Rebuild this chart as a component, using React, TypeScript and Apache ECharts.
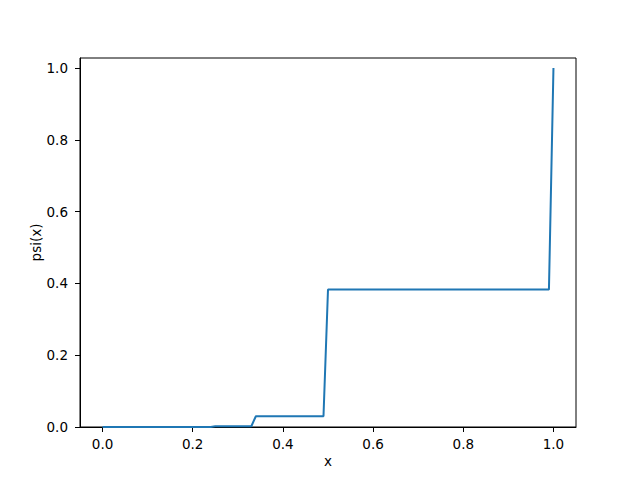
import React, { useEffect, useRef } from "react";
import * as echarts from "echarts";

const xPoints = [0, 0.24, 0.25, 0.33, 0.34, 0.49, 0.5, 0.99, 1.0];
const psiValues = [0, 0, 0.002, 0.002, 0.03, 0.03, 0.383, 0.383, 1.0];
const xTicks = [0, 0.2, 0.4, 0.6, 0.8, 1.0];
const yTicks = [0, 0.2, 0.4, 0.6, 0.8, 1.0];

export default function App() {
  const ref = useRef<HTMLDivElement>(null);
  useEffect(() => {
    if (!ref.current) return;
    const chart = echarts.init(ref.current, null, { renderer: "svg" });
    const font = "DejaVu Sans";
    const labelStyle = { color: "#000", fontFamily: font, fontSize: 13.5 };
    chart.setOption({
      animation: false,
      backgroundColor: "#fff",
      grid: {
        left: 80,
        right: 64,
        top: 58,
        bottom: 53,
        show: true,
        borderColor: "#000",
        borderWidth: 1,
        backgroundColor: "transparent",
      },
      xAxis: {
        type: "value",
        min: -0.05,
        max: 1.05,
        name: "x",
        nameLocation: "middle",
        nameGap: 27,
        nameMoveOverlap: false,
        nameTextStyle: labelStyle,
        axisLine: { show: true, onZero: false, lineStyle: { color: "#000", width: 1 } },
        axisTick: {
          show: true,
          length: 5,
          inside: false,
          customValues: xTicks,
          lineStyle: { color: "#000" },
        },
        axisLabel: {
          ...labelStyle,
          margin: 10,
          customValues: xTicks,
          formatter: (v: number) => v.toFixed(1),
        },
        splitLine: { show: false },
      },
      yAxis: {
        type: "value",
        min: 0,
        max: 1.028,
        name: "psi(x)",
        nameLocation: "middle",
        nameGap: 37,
        nameMoveOverlap: false,
        nameTextStyle: labelStyle,
        axisLine: { show: true, onZero: false, lineStyle: { color: "#000", width: 1 } },
        axisTick: {
          show: true,
          length: 5,
          inside: false,
          customValues: yTicks,
          lineStyle: { color: "#000" },
        },
        axisLabel: {
          ...labelStyle,
          margin: 12,
          customValues: yTicks,
          formatter: (v: number) => v.toFixed(1),
        },
        splitLine: { show: false },
      },
      series: [
        {
          type: "line",
          data: xPoints.map((x, i) => [x, psiValues[i]]),
          showSymbol: false,
          symbol: "none",
          lineStyle: { color: "#1f77b4", width: 2 },
          clip: true,
        },
      ],
    });
    return () => chart.dispose();
  }, []);
  return <div ref={ref} style={{ width: 640, height: 480, margin: -8 }} />;
}
